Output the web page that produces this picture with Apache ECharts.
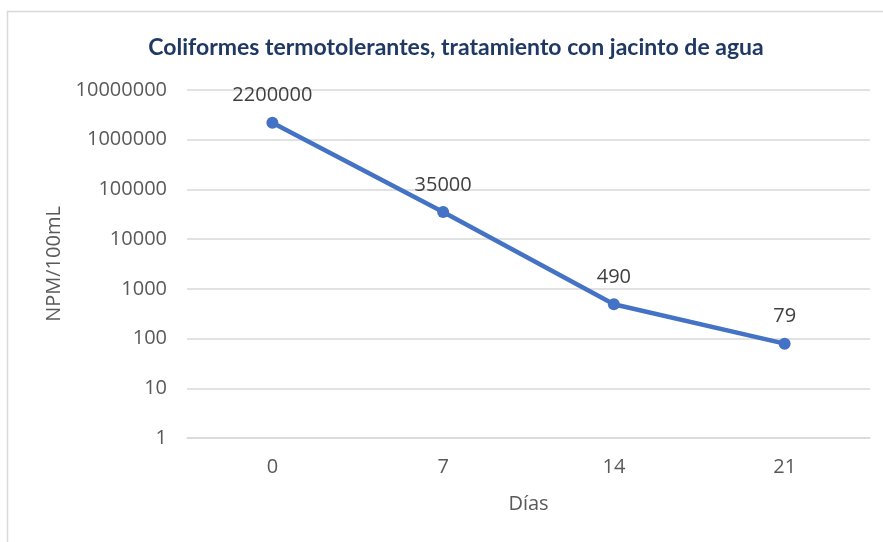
<!DOCTYPE html>
<html><head><meta charset="utf-8">
<script src="https://cdn.jsdelivr.net/npm/echarts@6/dist/echarts.min.js"></script>
<style>html,body{margin:0;padding:0;background:#fff}#c{width:883px;height:542px}</style>
</head><body><div id="c"></div>
<script>
const categories = ['0', '7', '14', '21'];
const values = [2200000, 35000, 490, 79];
const titleText = 'Coliformes termotolerantes, tratamiento con jacinto de agua';
const yName = 'NPM/100mL';
const xName = 'Días';

const chart = echarts.init(document.getElementById('c'));
chart.setOption({
  animation: false,
  backgroundColor: '#fff',
  graphic: [{type: 'rect', shape: {x: 7.5, y: 11.5, width: 900, height: 560}, style: {fill: 'none', stroke: '#D9D9D9', lineWidth: 1.5}, silent: true}],
  title: {text: titleText, left: 451, top: 31, textAlign: 'center',
    textStyle: {fontFamily: 'Lato', fontWeight: 'bold', fontSize: 23, color: '#1F3864'}},
  grid: {left: 187, right: 13, top: 90, bottom: 104},
  xAxis: {type: 'category', data: categories, boundaryGap: true,
    name: xName, nameLocation: 'middle', nameGap: 56,
    nameTextStyle: {fontFamily: 'Open Sans', fontSize: 20, color: '#595959'},
    axisLine: {lineStyle: {color: '#D9D9D9', width: 1.5}}, axisTick: {show: false},
    axisLabel: {fontFamily: 'Open Sans', fontSize: 20, color: '#595959', margin: 19}},
  yAxis: {type: 'log', logBase: 10, min: 1, max: 10000000,
    name: yName, nameLocation: 'middle', nameGap: 123, nameRotate: 90,
    nameTextStyle: {fontFamily: 'Open Sans', fontSize: 20, color: '#595959'},
    axisLine: {show: false}, axisTick: {show: false},
    splitLine: {lineStyle: {color: '#D9D9D9', width: 1.5}},
    axisLabel: {fontFamily: 'Open Sans', fontSize: 20, color: '#595959', margin: 20,
      formatter: v => String(Math.round(v))}},
  series: [{type: 'line', data: values, symbol: 'circle', symbolSize: 12,
    lineStyle: {color: '#4472C4', width: 4.5}, itemStyle: {color: '#4472C4'},
    label: {show: true, position: 'top', distance: 11, fontFamily: 'Open Sans', fontSize: 20, color: '#404040',
      formatter: p => String(p.value)}}]
});
</script></body></html>
